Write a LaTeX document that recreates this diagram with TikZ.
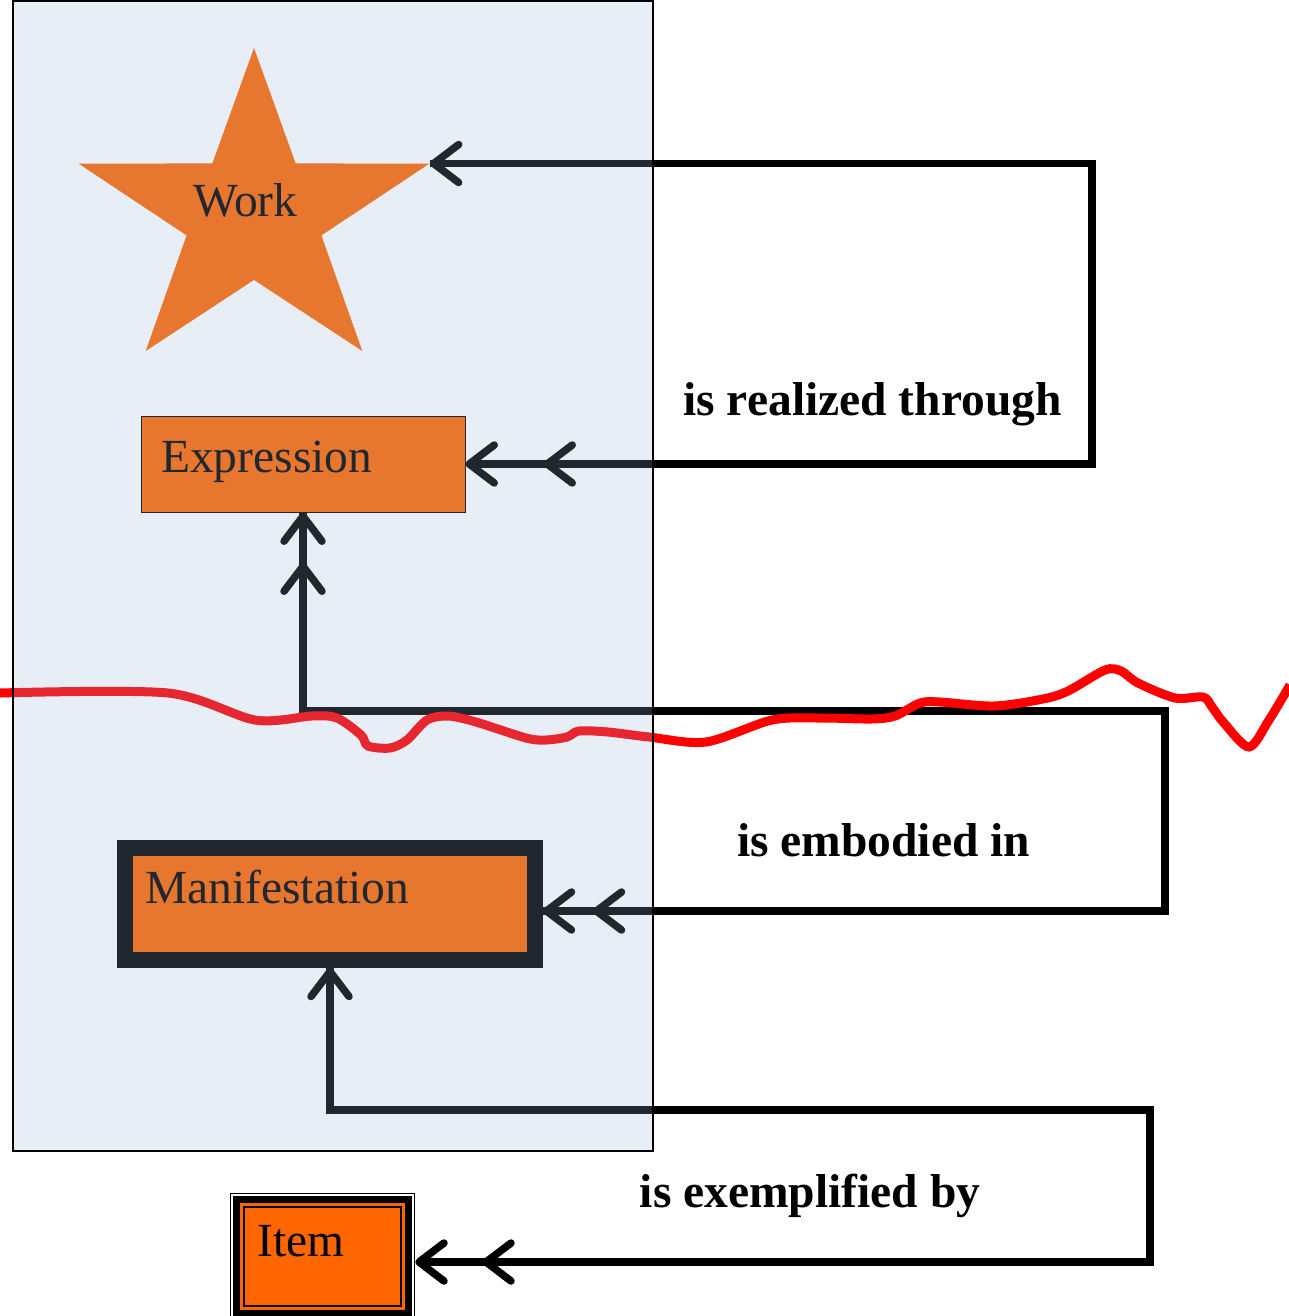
\documentclass[tikz,border=0pt]{standalone}
\usepackage{fontspec}
\setmainfont{Liberation Serif}
\usetikzlibrary{shapes.geometric,arrows.meta}
\definecolor{entityorange}{HTML}{FF6600}
\definecolor{groupblue}{RGB}{147,178,216}
\tikzstyle{every node}=[font=\fontsize{47.5}{57}\selectfont, inner sep=0pt]
\tikzstyle{entity}=[draw, fill=entityorange, line width=1pt]
\tikzstyle{caption}=[anchor=base west]
\tikzstyle{relname}=[anchor=base, font=\fontsize{47.5}{57}\selectfont\bfseries]
\tikzstyle{relation}=[line width=7.5pt]
\tikzset{
  secondhead/.style={postaction={draw, shorten >=#1, ->}},
  secondtail/.style={postaction={draw, shorten <=#1, <-}}
}

\begin{document}
\begin{tikzpicture}[x=1pt, y=-1pt, >={Straight Barb[length=25pt,width=38pt,round]}]
\useasboundingbox (0,0) rectangle (1288,1316);
% Entities
    \node[star, star points=5, star point ratio=2.6, minimum size=335pt, fill=entityorange, xscale=1.1] (work) at (254,215.5) {};
    \node[caption] (worktext) at (193,216) {Work};
    \node[entity, minimum width=324pt, minimum height=96pt] (expr) at (303,464) {};
    \node[caption] (exprtext) at (161,472) {Expression};
    \node[entity, line width=15.5pt, minimum width=410pt, minimum height=112pt] (manif) at (330,904) {};
    \node[caption] (maniftext) at (145,903) {Manifestation};
    \node[draw, fill=white, line width=1.5pt, minimum width=184pt, minimum height=126pt] (item) at (322.5,1256.5) {};
    \draw[entity, line width=7pt] ([shift={(6.75,6.75)}]item.north west) rectangle ([shift={(-6.75,-6.75)}]item.south east);
    \draw[line width=2.5pt] ([shift={(14.25,14.25)}]item.north west) rectangle ([shift={(-14.25,-14.25)}]item.south east);
    \node[caption] (itemtext) at (257,1256) {Item};
% Relationships
    \coordinate (realizedx) at (1092,0);
    \coordinate (embodiedx) at (1165,711);
    \coordinate (exemplifiedx) at (1150,1110);
    \coordinate (manifin) at ([yshift=-7pt]manif.east);
    \coordinate (itemin) at ([yshift=-5.5pt]item.east);
    \draw[relation, <->, secondhead=78pt] (work.outer point 5) -- (work.outer point 5 -| realizedx) |- (expr.east);
    \draw[relation, <->, secondtail=50pt, secondhead=50pt] (expr.south) |- (embodiedx) |- (manifin);
    \draw[relation, <->, secondhead=67pt] (manif.south) |- (exemplifiedx) |- (itemin);
    \node[relname] (realized) at (872.5,415) {is realized through};
    \node[relname] (embodied) at (883.5,856) {is embodied in};
    \node[relname] (exemplified) at (810,1207) {is exemplified by};
% Red line
    \draw[red, line width=9pt] plot[smooth, tension=0.5] coordinates {(0,693) (168,693) (255,720) (312,716) (337,718) (361,735) (368,746) (390,748) (407,740) (427,720) (448,716) (476,722) (526,738) (546,740) (567,737) (579,731) (608,732) (649,737) (706,742) (772,720) (821,718) (871,719) (895,716) (920,703) (940,702) (994,706) (1043,699) (1068,691) (1105,670) (1121,671) (1138,683) (1175,698) (1203,697) (1212,707) (1224,723) (1249,747) (1269,720) (1290,685)};
% Group
    \draw[fill=groupblue, fill opacity=0.22, line width=2pt] (13,1.5) rectangle (652.5,1151);
\end{tikzpicture}
\end{document}
